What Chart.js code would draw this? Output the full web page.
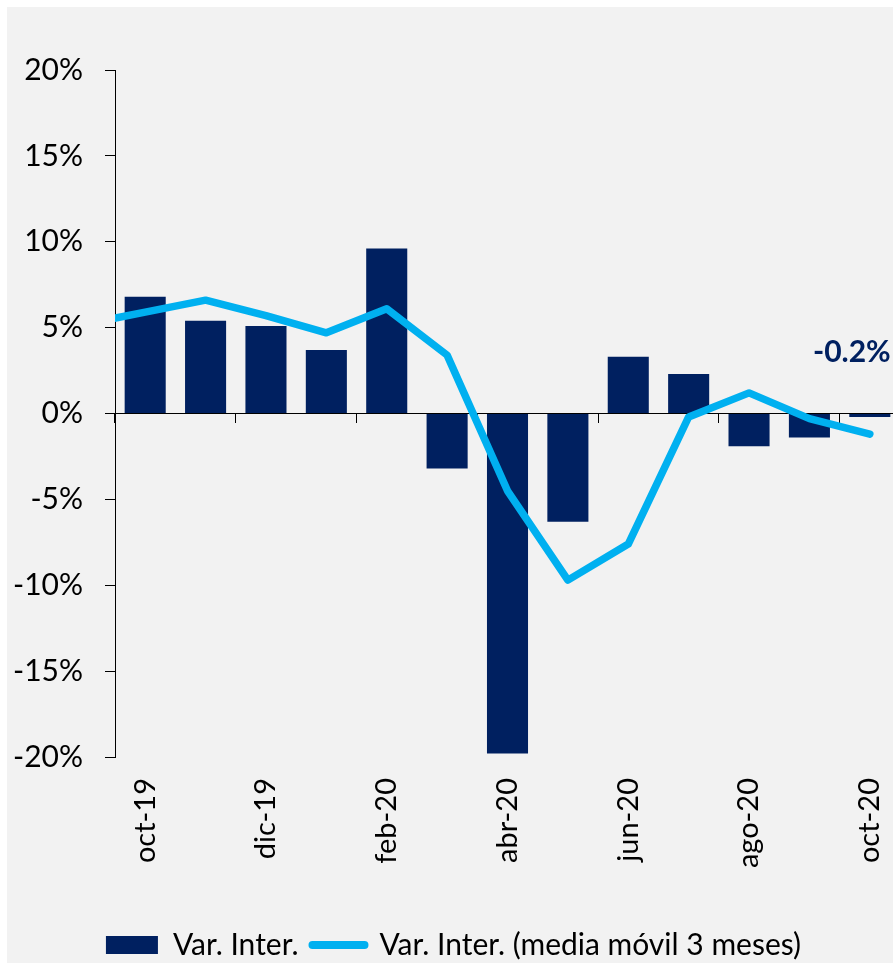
<!DOCTYPE html>
<html>
<head>
<meta charset="utf-8">
<script src="https://cdn.jsdelivr.net/npm/chart.js@4.4.0/dist/chart.umd.min.js"></script>
<style>
    html, body { margin: 0; padding: 0; background: #fff; overflow: hidden; }
    #marco { position: absolute; left: 7px; top: 7px; width: 893px; height: 956px; background: #f2f2f2; }
</style>
</head>
<body>
<div id="marco"><canvas id="grafico"></canvas></div>
<script>
    // sep-19 no se ve: solo sirve para que la media móvil entre desde el eje
    const meses = ['sep-19', 'oct-19', 'nov-19', 'dic-19', 'ene-20', 'feb-20', 'mar-20',
        'abr-20', 'may-20', 'jun-20', 'jul-20', 'ago-20', 'sep-20', 'oct-20'];
    const varInter = [null, 6.8, 5.4, 5.1, 3.7, 9.6, -3.2, -19.8, -6.3, 3.3, 2.3, -1.9, -1.4, -0.2];
    const mediaMovil = [5.2, 5.9, 6.6, 5.7, 4.7, 6.1, 3.4, -4.5, -9.7, -7.6, -0.2, 1.2, -0.3, -1.2];
    const ticksY = [-20, -15, -10, -5, 0, 5, 10, 15, 20];
    const etiquetaFinal = '-0.2%';

    const azulOscuro = '#002060';
    const celeste = '#00b0f0';

    Chart.defaults.font.family = 'Lato';
    Chart.defaults.color = '#000';

    const etiquetaPlugin = {
        id: 'etiquetaFinal',
        afterDatasetsDraw(chart) {
            const meta = chart.getDatasetMeta(0);
            const barra = meta.data[meta.data.length - 1];
            const ctx = chart.ctx;
            ctx.save();
            ctx.font = 'bold 30px Lato';
            ctx.fillStyle = azulOscuro;
            ctx.textAlign = 'center';
            ctx.textBaseline = 'middle';
            ctx.fillText(etiquetaFinal, barra.x - 18, barra.y - 65);
            ctx.restore();
        }
    };

    new Chart(document.getElementById('grafico'), {
        type: 'bar',
        data: {
            labels: meses,
            datasets: [{
                label: 'Var. Inter.',
                data: varInter,
                backgroundColor: azulOscuro,
                borderWidth: 0,
                categoryPercentage: 0.68,
                barPercentage: 1,
                order: 1
            }, {
                type: 'line',
                label: 'Var. Inter. (media móvil 3 meses)',
                data: mediaMovil,
                borderColor: celeste,
                backgroundColor: celeste,
                borderWidth: 7.5,
                borderJoinStyle: 'round',
                borderCapStyle: 'round',
                pointRadius: 0,
                tension: 0,
                clip: 0,
                order: 0
            }]
        },
        options: {
            responsive: true,
            maintainAspectRatio: false,
            animation: false,
            layout: { padding: { top: 63, left: 0, right: 0, bottom: -7 } },
            scales: {
                x: {
                    min: 'oct-19',
                    offset: true,
                    grid: { display: false, drawTicks: false, offset: true },
                    border: { display: false },
                    ticks: {
                        autoSkip: false,
                        maxRotation: 90,
                        minRotation: 90,
                        padding: 21,
                        font: { size: 29 },
                        callback: function (val) {
                            return val % 2 === 1 ? this.getLabelForValue(val) : '';
                        }
                    },
                    afterFit: function (scale) {
                        scale.height = 159;
                        scale.paddingLeft = 0;
                        scale.paddingRight = 0;
                    }
                },
                x2: {
                    type: 'category',
                    labels: meses,
                    min: 'oct-19',
                    position: { y: 0 },
                    offset: true,
                    border: { display: false },
                    ticks: { display: false },
                    grid: {
                        offset: true,
                        drawOnChartArea: false,
                        tickLength: 9,
                        color: ctx => ctx.index % 2 === 0 ? '#000' : 'rgba(0,0,0,0)',
                        tickColor: ctx => ctx.index % 2 === 0 ? '#000' : 'rgba(0,0,0,0)'
                    },
                    afterFit: function (scale) {
                        scale.paddingLeft = 0;
                        scale.paddingRight = 0;
                    }
                },
                y: {
                    min: ticksY[0],
                    max: ticksY[ticksY.length - 1],
                    afterBuildTicks: function (scale) {
                        scale.ticks = ticksY.map(v => ({ value: v }));
                    },
                    border: { display: true, color: '#000', width: 1 },
                    grid: {
                        color: ctx => ctx.tick && ctx.tick.value === 0 ? '#000' : 'rgba(0,0,0,0)',
                        tickColor: '#000',
                        tickLength: 10,
                        lineWidth: 1
                    },
                    ticks: {
                        padding: 22,
                        font: { size: 30 },
                        callback: v => v + '%'
                    },
                    afterFit: function (scale) { scale.width = 108; }
                }
            },
            plugins: {
                tooltip: { enabled: false },
                legend: {
                    position: 'bottom',
                    labels: {
                        usePointStyle: true,
                        pointStyleWidth: 52,
                        boxHeight: 18,
                        padding: 14,
                        font: { size: 30 },
                        sort: (a, b) => a.datasetIndex - b.datasetIndex,
                        generateLabels: function (chart) {
                            const items = Chart.defaults.plugins.legend.labels.generateLabels(chart);
                            items.forEach(it => {
                                if (it.datasetIndex === 1) {
                                    it.pointStyle = 'line';
                                    it.strokeStyle = celeste;
                                    it.lineWidth = 8;
                                    it.lineCap = 'round';
                                } else {
                                    it.pointStyle = 'rect';
                                    it.fillStyle = azulOscuro;
                                    it.lineWidth = 0;
                                }
                            });
                            return items;
                        }
                    }
                }
            }
        },
        plugins: [etiquetaPlugin]
    });
</script>
</body>
</html>
